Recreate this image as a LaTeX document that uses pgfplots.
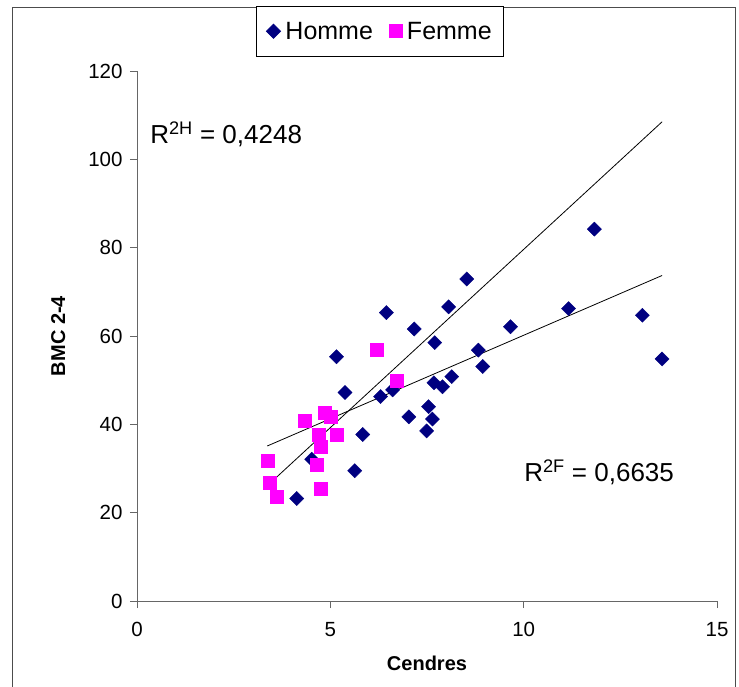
\documentclass[border=0pt]{standalone}
\usepackage{pgfplots}
\pgfplotsset{compat=1.18}
\usepackage{fontspec}
\setmainfont{Liberation Sans}
\definecolor{homme}{HTML}{000080}
\definecolor{femme}{HTML}{FF00FF}
\begin{document}
\begin{tikzpicture}[x=1pt,y=1pt]
\useasboundingbox (-137,-85) rectangle (602,601);
\draw[black!70, line width=0.8pt] (-125,-100) -- (-125,594) -- (598,594) -- (598,-100);
\begin{axis}[
  at={(0,0)}, anchor=south west,
  scale only axis, width=580pt, height=530pt,
  xmin=0, xmax=15, ymin=0, ymax=120,
  xtick={0,5,10,15}, ytick={0,20,...,120},
  axis x line=bottom, axis y line=left,
  axis line style={-, black!60, line width=0.8pt},
  tick style={black!60, line width=0.8pt},
  tick align=outside, major tick length=7pt,
  /pgf/number format/assume math mode=true,
  ticklabel style={font=\fontsize{20.5}{24}\selectfont},
  xticklabel style={yshift=-11pt},
  yticklabel style={xshift=-4pt},
  xlabel={\bfseries Cendres},
  ylabel={\bfseries BMC 2-4},
  label style={font=\fontsize{20}{24}\selectfont},
  xlabel style={yshift=-12pt},
  ylabel style={yshift=16pt},
  legend columns=2,
  legend style={at={(0.419,1.0264)}, anchor=south, draw=black, line width=0.8pt,
    font=\fontsize{25}{30}\selectfont, inner xsep=10pt, inner ysep=14pt,
    /tikz/every odd column/.append style={column sep=3pt},
    /tikz/every even column/.append style={column sep=14pt}},
  legend cell align=left,
  clip=false,
]
\addplot[only marks, mark=square*, mark size=5pt, mark options={rotate=45, fill=homme, draw=homme}] coordinates {
(4.13,23.2) (4.52,32.1) (5.16,55.3) (5.38,47.2) (5.63,29.5) (5.84,37.7)
(6.30,46.3) (6.45,65.3) (6.61,47.8) (7.03,41.7) (7.17,61.6) (7.49,38.5)
(7.54,44.0) (7.64,41.2) (7.68,49.4) (7.70,58.5) (7.90,48.5) (8.06,66.6)
(8.14,50.8) (8.53,72.9) (8.83,56.8) (8.94,53.1) (9.66,62.1) (11.16,66.2)
(11.83,84.2) (13.07,64.7) (13.58,54.8)
};
\addlegendentry{Homme}
\addplot[only marks, mark=square*, mark size=6.5pt, mark options={fill=femme, draw=femme}] coordinates {
(3.37,31.8) (3.42,26.8) (3.61,23.6) (4.34,40.8) (4.65,30.9) (4.71,37.7)
(4.75,34.9) (4.75,25.4) (4.86,42.6) (5.01,41.7) (5.16,37.7) (6.20,57.0)
(6.71,49.9)
};
\addlegendentry{Femme}
\addplot[black, line width=0.8pt, no marks, forget plot] coordinates {(3.37,26.1) (13.58,108.5)};
\addplot[black, line width=0.8pt, no marks, forget plot] coordinates {(3.37,35.1) (13.58,73.7)};
\node[anchor=base west, font=\fontsize{26}{30}\selectfont, inner sep=0pt] at (axis cs:0.34,103.5) {R\textsuperscript{2H} = 0,4248};
\node[anchor=base west, font=\fontsize{26}{30}\selectfont, inner sep=0pt] at (axis cs:10.01,27.0) {R\textsuperscript{2F} = 0,6635};
\end{axis}
\end{tikzpicture}
\end{document}
